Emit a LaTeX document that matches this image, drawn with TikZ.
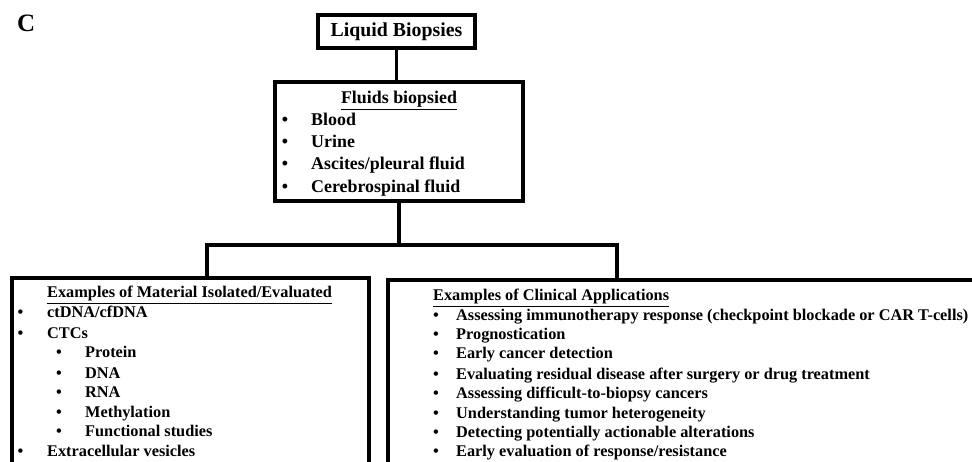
\documentclass[tikz,border=0pt]{standalone}
\usepackage{fontspec}
\setmainfont{Liberation Serif}
\begin{document}
\begin{tikzpicture}[x=1pt,y=-1pt,
  box/.style={draw, line width=3.2pt, rectangle, inner sep=0pt},
  conn/.style={line width=3.2pt},
  item/.style={anchor=base west, inner sep=0pt, font=\fontsize{16.3}{16.3}\selectfont\bfseries},
  bul/.style={anchor=base, inner sep=0pt, font=\fontsize{16.3}{16.3}\selectfont\bfseries},
  fitem/.style={anchor=base west, inner sep=0pt, font=\fontsize{17.9}{17.9}\selectfont\bfseries},
  fbul/.style={anchor=base, inner sep=0pt, font=\fontsize{17.9}{17.9}\selectfont\bfseries}]
\clip (0,0) rectangle (972,462);
\fill[white] (0,0) rectangle (972,462);

% panel letter
\node[anchor=base west, inner sep=0pt, font=\fontsize{25}{25}\selectfont\bfseries] (lab) at (17,32) {C};

% boxes
\node[box, minimum width=157pt, minimum height=33pt, font=\fontsize{19.8}{19.8}\selectfont\bfseries] (liq) at (396.5,31.5) {Liquid Biopsies};
\node[box, minimum width=248pt, minimum height=119pt] (flu) at (399,141.5) {};
\node[box, minimum width=357pt, minimum height=212pt] (lbox) at (190.5,384) {};
\node[box, minimum width=612pt, minimum height=210pt] (rbox) at (694,385) {};

% connectors
\coordinate (jc) at (399,245);
\coordinate (jl) at (207,245);
\coordinate (jr) at (617,245);
\coordinate (lt) at (207,278);
\coordinate (rt) at (617,280);
\draw[conn] (liq.south) -- (liq.south |- flu.north);
\draw[conn] (flu.south) -- (jc);
\draw[conn, line cap=rect] (jl) -- (jr);
\draw[conn] (jl) -- (lt);
\draw[conn] (jr) -- (rt);

% fluids box text
\node[anchor=base, inner sep=0pt, font=\fontsize{17.9}{17.9}\selectfont\bfseries] (ft) at (399,104) {\underline{Fluids biopsied}};
\node[fbul] (fb1) at (285,125.5) {\textbullet};
\node[fitem] (f1) at (311,125.5) {Blood};
\node[fbul] (fb2) at (285,147.5) {\textbullet};
\node[fitem] (f2) at (311,147.5) {Urine};
\node[fbul] (fb3) at (285,169.5) {\textbullet};
\node[fitem] (f3) at (311,169.5) {Ascites/pleural fluid};
\node[fbul] (fb4) at (285,192.5) {\textbullet};
\node[fitem] (f4) at (311,192.5) {Cerebrospinal fluid};

% left box text
\node[item] (lt0) at (47,298) {\underline{Examples of Material Isolated/Evaluated}};
\node[bul] (lb1) at (20.5,318) {\textbullet};
\node[item] (l1) at (47,318) {ctDNA/cfDNA};
\node[bul] (lb2) at (20.5,338) {\textbullet};
\node[item] (l2) at (47,338) {CTCs};
\node[bul] (lb3) at (59,358) {\textbullet};
\node[item] (l3) at (85,358) {Protein};
\node[bul] (lb4) at (59,378) {\textbullet};
\node[item] (l4) at (85,378) {DNA};
\node[bul] (lb5) at (59,397) {\textbullet};
\node[item] (l5) at (85,397) {RNA};
\node[bul] (lb6) at (59,417) {\textbullet};
\node[item] (l6) at (85,417) {Methylation};
\node[bul] (lb7) at (59,436) {\textbullet};
\node[item] (l7) at (85,436) {Functional studies};
\node[bul] (lb8) at (20.5,456) {\textbullet};
\node[item] (l8) at (47,456) {Extracellular vesicles};

% right box text
\node[item] (rt0) at (433,301) {\underline{Examples of Clinical Applications}};
\node[bul] (rb1) at (436,320) {\textbullet};
\node[item] (r1) at (456,320) {Assessing immunotherapy response (checkpoint blockade or CAR T-cells)};
\node[bul] (rb2) at (436,339) {\textbullet};
\node[item] (r2) at (456,339) {Prognostication};
\node[bul] (rb3) at (436,359) {\textbullet};
\node[item] (r3) at (456,359) {Early cancer detection};
\node[bul] (rb4) at (436,379) {\textbullet};
\node[item] (r4) at (456,379) {Evaluating residual disease after surgery or drug treatment};
\node[bul] (rb5) at (436,398) {\textbullet};
\node[item] (r5) at (456,398) {Assessing difficult-to-biopsy cancers};
\node[bul] (rb6) at (436,418) {\textbullet};
\node[item] (r6) at (456,418) {Understanding tumor heterogeneity};
\node[bul] (rb7) at (436,437) {\textbullet};
\node[item] (r7) at (456,437) {Detecting potentially actionable alterations};
\node[bul] (rb8) at (436,456) {\textbullet};
\node[item] (r8) at (456,456) {Early evaluation of response/resistance};
\end{tikzpicture}
\end{document}
